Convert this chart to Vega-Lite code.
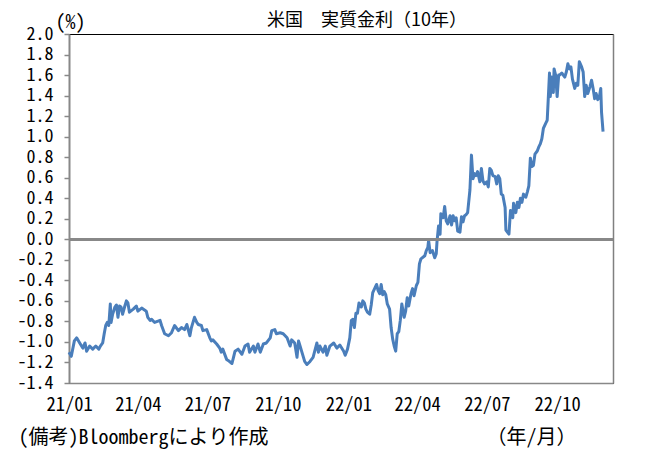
{
  "$schema": "https://vega.github.io/schema/vega-lite/v6.json",
  "width": 544,
  "height": 349,
  "autosize": {"type": "none"},
  "padding": {"left": 69, "top": 34, "right": 39, "bottom": 66},
  "background": "white",
  "title": {
    "text": "米国　実質金利（10年）",
    "font": "Noto Sans CJK JP",
    "fontSize": 18,
    "fontWeight": "normal",
    "color": "#000000",
    "anchor": "middle",
    "frame": "group",
    "baseline": "middle",
    "dx": 26,
    "dy": 35,
    "offset": 8
  },
  "config": {
    "view": {"stroke": "#000000", "strokeWidth": 1},
    "axis": {"labelFont": "Noto Sans Mono CJK JP, Noto Sans CJK JP", "titleFont": "Noto Sans Mono CJK JP, Noto Sans CJK JP", "labelColor": "#000000", "titleColor": "#000000", "titleFontWeight": "normal"}
  },
  "data": {
    "values": [
      {"d": "2021-01-01", "v": -1.10}, {"d": "2021-01-04", "v": -1.14}, {"d": "2021-01-08", "v": -0.99}, {"d": "2021-01-11", "v": -0.96},
      {"d": "2021-01-15", "v": -1.01}, {"d": "2021-01-19", "v": -1.06}, {"d": "2021-01-22", "v": -1.01}, {"d": "2021-01-24", "v": -1.09},
      {"d": "2021-01-28", "v": -1.04}, {"d": "2021-02-01", "v": -1.07}, {"d": "2021-02-05", "v": -1.04}, {"d": "2021-02-09", "v": -1.07},
      {"d": "2021-02-11", "v": -1.04}, {"d": "2021-02-14", "v": -1.01}, {"d": "2021-02-16", "v": -0.92}, {"d": "2021-02-18", "v": -0.84},
      {"d": "2021-02-20", "v": -0.81}, {"d": "2021-02-22", "v": -0.84}, {"d": "2021-02-24", "v": -0.63}, {"d": "2021-02-25", "v": -0.81},
      {"d": "2021-02-27", "v": -0.73}, {"d": "2021-03-02", "v": -0.66}, {"d": "2021-03-04", "v": -0.64}, {"d": "2021-03-06", "v": -0.76},
      {"d": "2021-03-08", "v": -0.65}, {"d": "2021-03-10", "v": -0.66}, {"d": "2021-03-12", "v": -0.73}, {"d": "2021-03-15", "v": -0.65},
      {"d": "2021-03-17", "v": -0.60}, {"d": "2021-03-19", "v": -0.62}, {"d": "2021-03-21", "v": -0.71}, {"d": "2021-03-26", "v": -0.68},
      {"d": "2021-03-30", "v": -0.65}, {"d": "2021-04-01", "v": -0.70}, {"d": "2021-04-06", "v": -0.67}, {"d": "2021-04-12", "v": -0.70},
      {"d": "2021-04-14", "v": -0.76}, {"d": "2021-04-17", "v": -0.79}, {"d": "2021-04-19", "v": -0.78}, {"d": "2021-04-23", "v": -0.81},
      {"d": "2021-04-30", "v": -0.79}, {"d": "2021-05-02", "v": -0.84}, {"d": "2021-05-06", "v": -0.92}, {"d": "2021-05-11", "v": -0.94},
      {"d": "2021-05-15", "v": -0.91}, {"d": "2021-05-19", "v": -0.84}, {"d": "2021-05-24", "v": -0.89}, {"d": "2021-05-28", "v": -0.86},
      {"d": "2021-06-01", "v": -0.88}, {"d": "2021-06-04", "v": -0.83}, {"d": "2021-06-08", "v": -0.94}, {"d": "2021-06-10", "v": -0.86},
      {"d": "2021-06-14", "v": -0.76}, {"d": "2021-06-17", "v": -0.81}, {"d": "2021-06-19", "v": -0.83}, {"d": "2021-06-23", "v": -0.84},
      {"d": "2021-06-25", "v": -0.89}, {"d": "2021-06-30", "v": -0.88}, {"d": "2021-07-04", "v": -0.96}, {"d": "2021-07-06", "v": -0.99},
      {"d": "2021-07-08", "v": -0.98}, {"d": "2021-07-13", "v": -1.02}, {"d": "2021-07-17", "v": -1.06}, {"d": "2021-07-19", "v": -1.10},
      {"d": "2021-07-21", "v": -1.07}, {"d": "2021-07-26", "v": -1.17}, {"d": "2021-07-28", "v": -1.18}, {"d": "2021-08-02", "v": -1.21},
      {"d": "2021-08-04", "v": -1.15}, {"d": "2021-08-06", "v": -1.09}, {"d": "2021-08-10", "v": -1.07}, {"d": "2021-08-15", "v": -1.12},
      {"d": "2021-08-19", "v": -1.04}, {"d": "2021-08-23", "v": -1.02}, {"d": "2021-08-25", "v": -1.10}, {"d": "2021-08-30", "v": -1.04},
      {"d": "2021-09-01", "v": -1.10}, {"d": "2021-09-05", "v": -1.02}, {"d": "2021-09-08", "v": -1.10}, {"d": "2021-09-12", "v": -1.02},
      {"d": "2021-09-16", "v": -1.01}, {"d": "2021-09-21", "v": -0.96}, {"d": "2021-09-23", "v": -0.89}, {"d": "2021-09-27", "v": -0.88},
      {"d": "2021-09-29", "v": -0.92}, {"d": "2021-10-04", "v": -0.91}, {"d": "2021-10-08", "v": -0.92}, {"d": "2021-10-13", "v": -0.96},
      {"d": "2021-10-17", "v": -1.04}, {"d": "2021-10-19", "v": -0.98}, {"d": "2021-10-23", "v": -1.01}, {"d": "2021-10-26", "v": -1.15},
      {"d": "2021-10-28", "v": -0.99}, {"d": "2021-10-30", "v": -1.04}, {"d": "2021-11-01", "v": -1.09}, {"d": "2021-11-05", "v": -1.19},
      {"d": "2021-11-08", "v": -1.22}, {"d": "2021-11-12", "v": -1.19}, {"d": "2021-11-16", "v": -1.15}, {"d": "2021-11-21", "v": -1.01},
      {"d": "2021-11-23", "v": -1.10}, {"d": "2021-11-25", "v": -1.04}, {"d": "2021-11-29", "v": -1.10}, {"d": "2021-12-02", "v": -1.04},
      {"d": "2021-12-04", "v": -1.13}, {"d": "2021-12-08", "v": -1.04}, {"d": "2021-12-13", "v": -1.01}, {"d": "2021-12-17", "v": -1.06},
      {"d": "2021-12-21", "v": -1.03}, {"d": "2021-12-26", "v": -1.09}, {"d": "2021-12-28", "v": -1.13}, {"d": "2021-12-31", "v": -1.07},
      {"d": "2022-01-03", "v": -0.96}, {"d": "2022-01-05", "v": -0.79}, {"d": "2022-01-07", "v": -0.78}, {"d": "2022-01-09", "v": -0.86},
      {"d": "2022-01-11", "v": -0.72}, {"d": "2022-01-13", "v": -0.72}, {"d": "2022-01-15", "v": -0.62}, {"d": "2022-01-18", "v": -0.66},
      {"d": "2022-01-20", "v": -0.60}, {"d": "2022-01-22", "v": -0.62}, {"d": "2022-01-24", "v": -0.68}, {"d": "2022-01-26", "v": -0.71},
      {"d": "2022-01-29", "v": -0.73}, {"d": "2022-01-31", "v": -0.64}, {"d": "2022-02-02", "v": -0.52}, {"d": "2022-02-07", "v": -0.44},
      {"d": "2022-02-09", "v": -0.50}, {"d": "2022-02-11", "v": -0.53}, {"d": "2022-02-13", "v": -0.44}, {"d": "2022-02-15", "v": -0.54},
      {"d": "2022-02-17", "v": -0.51}, {"d": "2022-02-19", "v": -0.54}, {"d": "2022-02-21", "v": -0.63}, {"d": "2022-02-24", "v": -0.68},
      {"d": "2022-02-26", "v": -0.86}, {"d": "2022-02-28", "v": -0.97}, {"d": "2022-03-02", "v": -1.04}, {"d": "2022-03-04", "v": -1.09},
      {"d": "2022-03-06", "v": -0.92}, {"d": "2022-03-08", "v": -0.90}, {"d": "2022-03-10", "v": -0.79}, {"d": "2022-03-12", "v": -0.63},
      {"d": "2022-03-15", "v": -0.76}, {"d": "2022-03-17", "v": -0.70}, {"d": "2022-03-19", "v": -0.57}, {"d": "2022-03-21", "v": -0.65},
      {"d": "2022-03-24", "v": -0.53}, {"d": "2022-03-26", "v": -0.48}, {"d": "2022-03-28", "v": -0.55}, {"d": "2022-03-31", "v": -0.45},
      {"d": "2022-04-02", "v": -0.42}, {"d": "2022-04-04", "v": -0.24}, {"d": "2022-04-06", "v": -0.19}, {"d": "2022-04-11", "v": -0.16},
      {"d": "2022-04-13", "v": -0.11}, {"d": "2022-04-15", "v": -0.08}, {"d": "2022-04-16", "v": -0.01}, {"d": "2022-04-18", "v": -0.13},
      {"d": "2022-04-21", "v": -0.11}, {"d": "2022-04-24", "v": -0.18}, {"d": "2022-04-26", "v": -0.14}, {"d": "2022-04-27", "v": -0.02},
      {"d": "2022-04-29", "v": 0.13}, {"d": "2022-05-01", "v": 0.05}, {"d": "2022-05-02", "v": 0.25}, {"d": "2022-05-05", "v": 0.21},
      {"d": "2022-05-07", "v": 0.32}, {"d": "2022-05-09", "v": 0.18}, {"d": "2022-05-11", "v": 0.15}, {"d": "2022-05-14", "v": 0.23},
      {"d": "2022-05-16", "v": 0.14}, {"d": "2022-05-18", "v": 0.23}, {"d": "2022-05-20", "v": 0.18}, {"d": "2022-05-22", "v": 0.21},
      {"d": "2022-05-24", "v": 0.08}, {"d": "2022-05-27", "v": 0.07}, {"d": "2022-05-29", "v": 0.22}, {"d": "2022-05-31", "v": 0.17},
      {"d": "2022-06-02", "v": 0.23}, {"d": "2022-06-04", "v": 0.24}, {"d": "2022-06-06", "v": 0.26}, {"d": "2022-06-09", "v": 0.48},
      {"d": "2022-06-11", "v": 0.82}, {"d": "2022-06-13", "v": 0.59}, {"d": "2022-06-15", "v": 0.64}, {"d": "2022-06-17", "v": 0.62},
      {"d": "2022-06-19", "v": 0.66}, {"d": "2022-06-22", "v": 0.56}, {"d": "2022-06-24", "v": 0.69}, {"d": "2022-06-26", "v": 0.57},
      {"d": "2022-06-28", "v": 0.54}, {"d": "2022-07-01", "v": 0.56}, {"d": "2022-07-03", "v": 0.51}, {"d": "2022-07-05", "v": 0.69},
      {"d": "2022-07-07", "v": 0.67}, {"d": "2022-07-09", "v": 0.62}, {"d": "2022-07-12", "v": 0.61}, {"d": "2022-07-14", "v": 0.54},
      {"d": "2022-07-16", "v": 0.62}, {"d": "2022-07-18", "v": 0.59}, {"d": "2022-07-20", "v": 0.44}, {"d": "2022-07-22", "v": 0.43},
      {"d": "2022-07-25", "v": 0.31}, {"d": "2022-07-26", "v": 0.09}, {"d": "2022-07-28", "v": 0.07}, {"d": "2022-07-30", "v": 0.05},
      {"d": "2022-08-01", "v": 0.28}, {"d": "2022-08-04", "v": 0.21}, {"d": "2022-08-05", "v": 0.35}, {"d": "2022-08-08", "v": 0.26},
      {"d": "2022-08-10", "v": 0.36}, {"d": "2022-08-12", "v": 0.31}, {"d": "2022-08-14", "v": 0.40}, {"d": "2022-08-16", "v": 0.36},
      {"d": "2022-08-18", "v": 0.44}, {"d": "2022-08-21", "v": 0.41}, {"d": "2022-08-23", "v": 0.46}, {"d": "2022-08-25", "v": 0.52},
      {"d": "2022-08-27", "v": 0.79}, {"d": "2022-08-29", "v": 0.71}, {"d": "2022-08-31", "v": 0.72}, {"d": "2022-09-02", "v": 0.83},
      {"d": "2022-09-05", "v": 0.86}, {"d": "2022-09-07", "v": 0.90}, {"d": "2022-09-09", "v": 0.93}, {"d": "2022-09-11", "v": 0.98},
      {"d": "2022-09-13", "v": 1.08}, {"d": "2022-09-16", "v": 1.13}, {"d": "2022-09-18", "v": 1.16}, {"d": "2022-09-19", "v": 1.31},
      {"d": "2022-09-21", "v": 1.62}, {"d": "2022-09-22", "v": 1.39}, {"d": "2022-09-24", "v": 1.58}, {"d": "2022-09-26", "v": 1.43},
      {"d": "2022-09-27", "v": 1.66}, {"d": "2022-09-29", "v": 1.60}, {"d": "2022-10-01", "v": 1.39}, {"d": "2022-10-03", "v": 1.60},
      {"d": "2022-10-04", "v": 1.60}, {"d": "2022-10-07", "v": 1.62}, {"d": "2022-10-09", "v": 1.60}, {"d": "2022-10-11", "v": 1.58},
      {"d": "2022-10-13", "v": 1.63}, {"d": "2022-10-15", "v": 1.71}, {"d": "2022-10-17", "v": 1.66}, {"d": "2022-10-19", "v": 1.68},
      {"d": "2022-10-21", "v": 1.56}, {"d": "2022-10-24", "v": 1.47}, {"d": "2022-10-26", "v": 1.52}, {"d": "2022-10-28", "v": 1.50},
      {"d": "2022-10-30", "v": 1.73}, {"d": "2022-11-02", "v": 1.68}, {"d": "2022-11-04", "v": 1.63}, {"d": "2022-11-06", "v": 1.39},
      {"d": "2022-11-08", "v": 1.50}, {"d": "2022-11-10", "v": 1.42}, {"d": "2022-11-13", "v": 1.49}, {"d": "2022-11-15", "v": 1.55},
      {"d": "2022-11-17", "v": 1.47}, {"d": "2022-11-19", "v": 1.37}, {"d": "2022-11-21", "v": 1.42}, {"d": "2022-11-23", "v": 1.36},
      {"d": "2022-11-25", "v": 1.38}, {"d": "2022-11-27", "v": 1.47}, {"d": "2022-11-28", "v": 1.24}, {"d": "2022-11-30", "v": 1.05}
    ]
  },
  "layer": [
    {
      "mark": {"type": "line", "color": "#4a7ebb", "strokeWidth": 3, "strokeJoin": "round"},
      "encoding": {
        "x": {
          "field": "d",
          "type": "temporal",
          "scale": {"domain": [{"year": 2021, "month": 1, "date": 1, "utc": true}, {"year": 2022, "month": 12, "date": 13, "utc": true}]},
          "axis": {
            "values": [
              {"year": 2021, "month": 1, "date": 1, "utc": true}, {"year": 2021, "month": 4, "date": 1, "utc": true},
              {"year": 2021, "month": 7, "date": 1, "utc": true}, {"year": 2021, "month": 10, "date": 1, "utc": true},
              {"year": 2022, "month": 1, "date": 1, "utc": true}, {"year": 2022, "month": 4, "date": 1, "utc": true},
              {"year": 2022, "month": 7, "date": 1, "utc": true}, {"year": 2022, "month": 10, "date": 1, "utc": true}
            ],
            "labelExpr": "utcFormat(datum.value, '%y/%m')",
            "ticks": false,
            "grid": false,
            "domainColor": "#888888",
            "domainWidth": 1.5,
            "labelFontSize": 18.5,
            "labelPadding": 12,
            "labelFlush": false,
            "labelOverlap": false,
            "title": "(備考)Bloombergにより作成",
            "titleFontSize": 20,
            "titleAlign": "left",
            "titleAnchor": "start",
            "titleBaseline": "middle",
            "titleX": -51,
            "titleY": 54
          }
        },
        "y": {
          "field": "v",
          "type": "quantitative",
          "scale": {"domain": [-1.4, 2.0], "nice": false, "zero": false},
          "axis": {
            "values": [-1.4, -1.2, -1.0, -0.8, -0.6, -0.4, -0.2, 0, 0.2, 0.4, 0.6, 0.8, 1.0, 1.2, 1.4, 1.6, 1.8, 2.0],
            "labelExpr": "(datum.value < 0 ? '-' : '') + format(abs(datum.value), '.1f')",
            "grid": false,
            "domainColor": "#888888",
            "domainWidth": 2,
            "tickColor": "#888888",
            "tickWidth": 1.5,
            "tickSize": 5,
            "labelFontSize": 18,
            "labelPadding": 11,
            "labelOverlap": false,
            "labelFlush": false,
            "title": "(%)",
            "titleFontSize": 20,
            "titleAngle": 0,
            "titleAlign": "left",
            "titleBaseline": "middle",
            "titleX": -14,
            "titleY": -12
          }
        }
      }
    },
    {
      "mark": {"type": "rule", "color": "#888888", "strokeWidth": 2},
      "encoding": {
        "y": {
          "datum": 0,
          "type": "quantitative",
          "scale": {"domain": [-1.4, 2.0], "nice": false, "zero": false},
          "axis": {
            "orient": "right",
            "labels": false,
            "ticks": false,
            "grid": false,
            "domainColor": "#808080",
            "domainWidth": 1.5,
            "title": "（年/月）",
            "titleFontSize": 20,
            "titleAngle": 0,
            "titleAlign": "right",
            "titleBaseline": "middle",
            "titleX": -37,
            "titleY": 403
          }
        }
      }
    }
  ],
  "resolve": {"scale": {"y": "independent"}}
}
